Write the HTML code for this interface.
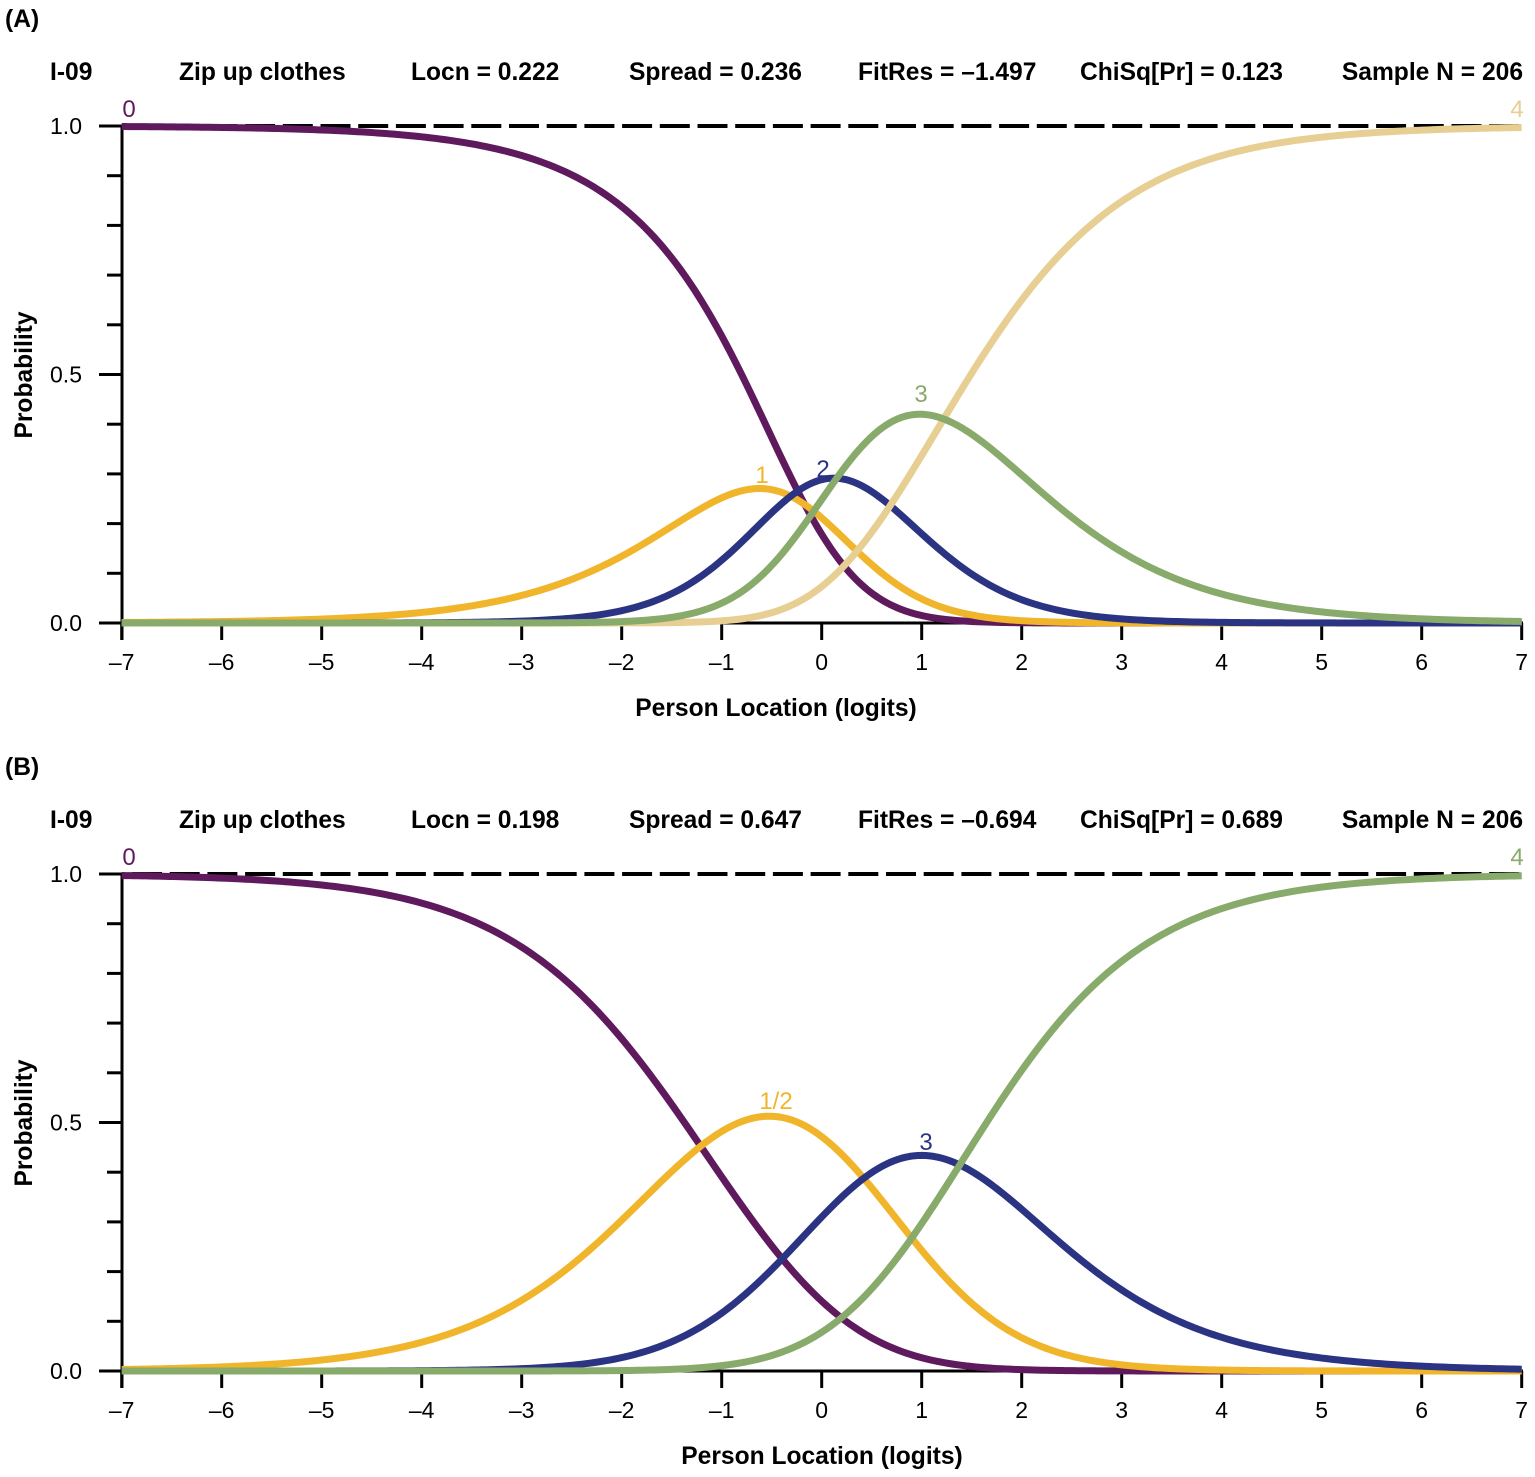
<!DOCTYPE html>
<html>
<head>
<meta charset="utf-8">
<style>
  html,body{margin:0;padding:0;background:#fff;}
  svg{display:block;}
  text{font-family:"Liberation Sans",Arial,sans-serif;}
  .b{font-weight:bold;font-size:24.6px;fill:#000;}
  .t{font-size:23px;fill:#000;}
  .c{font-size:24px;}
</style>
</head>
<body>
<svg id="s" width="1535" height="1477" viewBox="0 0 1535 1477" xmlns="http://www.w3.org/2000/svg">
<rect x="0" y="0" width="1535" height="1477" fill="#fff"/>

<!-- ============ PANEL A ============ -->
<g id="pA">
  <text class="b" x="5" y="27">(A)</text>
  <text class="b" x="50" y="80">I-09</text>
  <text class="b" x="179" y="80">Zip up clothes</text>
  <text class="b" x="411" y="80">Locn = 0.222</text>
  <text class="b" x="629" y="80">Spread = 0.236</text>
  <text class="b" x="858" y="80">FitRes = –1.497</text>
  <text class="b" x="1080" y="80">ChiSq[Pr] = 0.123</text>
  <text class="b" x="1523" y="80" text-anchor="end">Sample N = 206</text>

  <line x1="122" y1="126" x2="1521.7" y2="126" stroke="#000" stroke-width="4" stroke-dasharray="30 7.7" stroke-dashoffset="27.7"/>

  <line x1="122" y1="124.5" x2="122" y2="640" stroke="#000" stroke-width="3"/>
  <line x1="122" y1="623" x2="1523" y2="623" stroke="#000" stroke-width="3"/>
  <g stroke="#000" stroke-width="3" id="yticksA"></g>
  <g stroke="#000" stroke-width="3" id="xticksA"></g>

  <text class="t" x="82" y="134" text-anchor="end">1.0</text>
  <text class="t" x="82" y="382.5" text-anchor="end">0.5</text>
  <text class="t" x="82" y="631" text-anchor="end">0.0</text>

  <g class="t" text-anchor="middle">
    <text x="121.7" y="670">–7</text>
    <text x="221.7" y="670">–6</text>
    <text x="321.7" y="670">–5</text>
    <text x="421.7" y="670">–4</text>
    <text x="521.7" y="670">–3</text>
    <text x="621.7" y="670">–2</text>
    <text x="721.7" y="670">–1</text>
    <text x="821.7" y="670">0</text>
    <text x="921.7" y="670">1</text>
    <text x="1021.7" y="670">2</text>
    <text x="1121.7" y="670">3</text>
    <text x="1221.7" y="670">4</text>
    <text x="1321.7" y="670">5</text>
    <text x="1421.7" y="670">6</text>
    <text x="1521.7" y="670">7</text>
  </g>

  <text class="b" x="776" y="716" text-anchor="middle">Person Location (logits)</text>
  <text class="b" transform="translate(32,375) rotate(-90)" text-anchor="middle">Probability</text>

  <g fill="none" stroke-width="7" stroke-linejoin="round" stroke-linecap="butt">
    <path id="A0" stroke="#5f1a5e"/>
    <path id="A1" stroke="#f0b52a"/>
    <path id="A2" stroke="#2b3483"/>
    <path id="A4" stroke="#e7cf93"/>
    <path id="A3" stroke="#88aa6a"/>
  </g>

  <text class="c" x="129" y="117" text-anchor="middle" fill="#5f1a5e">0</text>
  <text class="c" x="762" y="483" text-anchor="middle" fill="#f0b52a">1</text>
  <text class="c" x="823" y="477" text-anchor="middle" fill="#2b3483">2</text>
  <text class="c" x="921" y="402" text-anchor="middle" fill="#88aa6a">3</text>
  <text class="c" x="1517" y="117" text-anchor="middle" fill="#e7cf93">4</text>
</g>

<!-- ============ PANEL B ============ -->
<g id="pB">
  <text class="b" x="5" y="775">(B)</text>
  <text class="b" x="50" y="828">I-09</text>
  <text class="b" x="179" y="828">Zip up clothes</text>
  <text class="b" x="411" y="828">Locn = 0.198</text>
  <text class="b" x="629" y="828">Spread = 0.647</text>
  <text class="b" x="858" y="828">FitRes = –0.694</text>
  <text class="b" x="1080" y="828">ChiSq[Pr] = 0.689</text>
  <text class="b" x="1523" y="828" text-anchor="end">Sample N = 206</text>

  <line x1="122" y1="874" x2="1521.7" y2="874" stroke="#000" stroke-width="4" stroke-dasharray="30 7.7" stroke-dashoffset="27.7"/>

  <line x1="122" y1="872.5" x2="122" y2="1388" stroke="#000" stroke-width="3"/>
  <line x1="122" y1="1371" x2="1523" y2="1371" stroke="#000" stroke-width="3"/>
  <g stroke="#000" stroke-width="3" id="yticksB"></g>
  <g stroke="#000" stroke-width="3" id="xticksB"></g>

  <text class="t" x="82" y="882" text-anchor="end">1.0</text>
  <text class="t" x="82" y="1130.5" text-anchor="end">0.5</text>
  <text class="t" x="82" y="1379" text-anchor="end">0.0</text>

  <g class="t" text-anchor="middle">
    <text x="121.7" y="1418">–7</text>
    <text x="221.7" y="1418">–6</text>
    <text x="321.7" y="1418">–5</text>
    <text x="421.7" y="1418">–4</text>
    <text x="521.7" y="1418">–3</text>
    <text x="621.7" y="1418">–2</text>
    <text x="721.7" y="1418">–1</text>
    <text x="821.7" y="1418">0</text>
    <text x="921.7" y="1418">1</text>
    <text x="1021.7" y="1418">2</text>
    <text x="1121.7" y="1418">3</text>
    <text x="1221.7" y="1418">4</text>
    <text x="1321.7" y="1418">5</text>
    <text x="1421.7" y="1418">6</text>
    <text x="1521.7" y="1418">7</text>
  </g>

  <text class="b" x="822" y="1464" text-anchor="middle">Person Location (logits)</text>
  <text class="b" transform="translate(32,1123) rotate(-90)" text-anchor="middle">Probability</text>

  <g fill="none" stroke-width="7" stroke-linejoin="round" stroke-linecap="butt">
    <path id="B0" stroke="#5f1a5e"/>
    <path id="B1" stroke="#f0b52a"/>
    <path id="B2" stroke="#2b3483"/>
    <path id="B3" stroke="#88aa6a"/>
  </g>

  <text class="c" x="129" y="865" text-anchor="middle" fill="#5f1a5e">0</text>
  <text class="c" x="776" y="1109" text-anchor="middle" fill="#f0b52a">1/2</text>
  <text class="c" x="926" y="1150" text-anchor="middle" fill="#2b3483">3</text>
  <text class="c" x="1517" y="865" text-anchor="middle" fill="#88aa6a">4</text>
</g>
</svg>

<script>
(function(){
  var NS="http://www.w3.org/2000/svg";
  function line(g,x1,y1,x2,y2){
    var l=document.createElementNS(NS,"line");
    l.setAttribute("x1",x1);l.setAttribute("y1",y1);
    l.setAttribute("x2",x2);l.setAttribute("y2",y2);
    g.appendChild(l);
  }
  function ticks(id1,id2,y0){
    var gy=document.getElementById(id1), gx=document.getElementById(id2);
    for(var k=0;k<=10;k++){
      var y=y0-k*49.7;
      var major=(k===0||k===5||k===10);
      line(gy, major?99:107, y, 122, y);
    }
    for(var i=0;i<=14;i++){
      var x=121.7+i*100;
      line(gx, x, y0, x, y0+17);
    }
  }
  ticks("yticksA","xticksA",623);
  ticks("yticksB","xticksB",1371);

  function draw(prefix,taus,y0){
    var m=taus.length, d=[];
    for(var k=0;k<=m;k++) d.push("");
    var step=0.04;
    for(var t=-7, n=0; t<=7.0001; t+=step, n++){
      var th=Math.min(t,7);
      var psi=[0], s=0;
      for(var k=1;k<=m;k++){ s+=th-taus[k-1]; psi.push(s); }
      var mx=Math.max.apply(null,psi), sum=0, e=[];
      for(var k=0;k<=m;k++){ e.push(Math.exp(psi[k]-mx)); sum+=e[k]; }
      var x=121.7+(th+7)*100;
      for(var k=0;k<=m;k++){
        var y=y0-(e[k]/sum)*497;
        d[k]+=(n===0?"M":"L")+x.toFixed(2)+","+y.toFixed(2);
      }
    }
    for(var k=0;k<=m;k++){
      var p=document.getElementById(prefix+k);
      if(p) p.setAttribute("d",d[k]);
    }
  }
  draw("A",[-0.17,-0.31,0.15,1.22],623);
  draw("B",[-1.21,0.42,1.38],1371);
})();
</script>
</body>
</html>
